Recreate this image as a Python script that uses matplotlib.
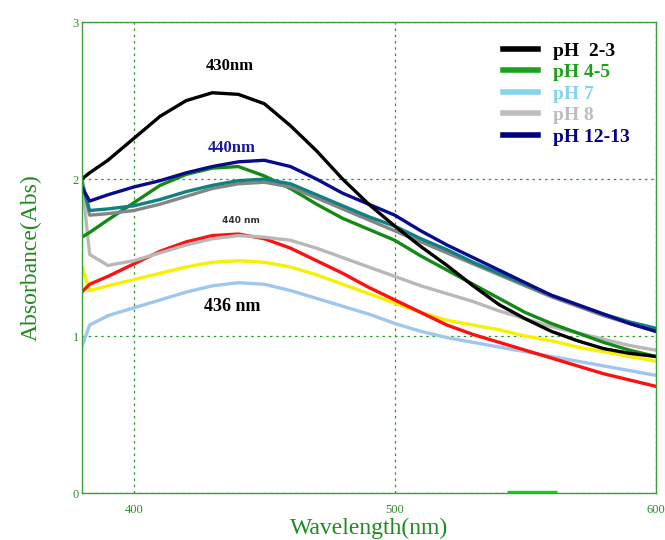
import matplotlib.pyplot as plt

# wavelength grid (nm)
wl = [380, 383, 390, 400, 410, 420, 430, 440, 450, 460, 470, 480,
      490, 500, 510, 520, 530, 540, 550, 560, 570, 580, 590, 600]

# absorbance values
black = [2.00, 2.04, 2.12, 2.26, 2.40, 2.50, 2.55, 2.54, 2.48, 2.34, 2.18, 2.00,
         1.84, 1.70, 1.57, 1.45, 1.32, 1.20, 1.11, 1.03, 0.97, 0.92, 0.89, 0.87]
green = [1.63, 1.66, 1.74, 1.85, 1.96, 2.03, 2.07, 2.08, 2.02, 1.94, 1.84, 1.75,
         1.68, 1.61, 1.51, 1.42, 1.33, 1.24, 1.15, 1.08, 1.02, 0.96, 0.91, 0.87]
navy = [1.95, 1.86, 1.90, 1.95, 1.99, 2.04, 2.08, 2.11, 2.12, 2.08, 2.00, 1.91,
        1.84, 1.77, 1.67, 1.58, 1.50, 1.42, 1.34, 1.26, 1.20, 1.14, 1.08, 1.03]
teal = [1.98, 1.80, 1.81, 1.83, 1.87, 1.92, 1.96, 1.99, 2.00, 1.97, 1.90, 1.83,
        1.76, 1.70, 1.62, 1.55, 1.47, 1.40, 1.33, 1.26, 1.20, 1.14, 1.09, 1.05]
dgray = [2.00, 1.77, 1.78, 1.80, 1.84, 1.89, 1.94, 1.97, 1.98, 1.95, 1.88, 1.81,
         1.74, 1.67, 1.60, 1.53, 1.46, 1.39, 1.32, 1.25, 1.19, 1.13, 1.08, 1.03]
silver = [2.00, 1.52, 1.45, 1.48, 1.53, 1.58, 1.62, 1.64, 1.63, 1.61, 1.56, 1.50,
          1.44, 1.38, 1.32, 1.27, 1.22, 1.16, 1.11, 1.06, 1.02, 0.98, 0.94, 0.91]
red = [1.28, 1.33, 1.38, 1.46, 1.54, 1.60, 1.64, 1.65, 1.62, 1.56, 1.48, 1.40,
       1.31, 1.23, 1.15, 1.07, 1.01, 0.96, 0.91, 0.86, 0.81, 0.76, 0.72, 0.68]
yellow = [1.45, 1.29, 1.32, 1.36, 1.40, 1.44, 1.47, 1.48, 1.47, 1.44, 1.39, 1.33,
          1.27, 1.21, 1.15, 1.10, 1.07, 1.04, 1.00, 0.97, 0.93, 0.90, 0.87, 0.84]
lblue = [0.93, 1.07, 1.13, 1.18, 1.23, 1.28, 1.32, 1.34, 1.33, 1.29, 1.24, 1.19,
         1.14, 1.08, 1.03, 0.99, 0.96, 0.93, 0.90, 0.87, 0.84, 0.81, 0.78, 0.75]

floor_wl = [543, 562]
floor_val = [0.008, 0.008]

legend_labels = ['pH  2-3', 'pH 4-5', 'pH 7', 'pH 8', 'pH 12-13']
legend_colors = ['#000000', '#1aa31a', '#86d3ee', '#bdbdbd', '#000080']

fig = plt.figure(figsize=(6.65, 5.4), dpi=100)
ax = fig.add_axes([0.123, 0.087, 0.863, 0.872])

lw = 2.4
ax.plot(wl, lblue, color='#9ec6ee', lw=lw)
ax.plot(wl, yellow, color='#f7f000', lw=lw)
ax.plot(wl, red, color='#ff1010', lw=lw)
ax.plot(wl, silver, color='#b8b8b8', lw=lw)
ax.plot(wl, green, color='#138a13', lw=lw)
ax.plot(wl, dgray, color='#858585', lw=lw)
ax.plot(wl, teal, color='#108080', lw=lw)
ax.plot(wl, navy, color='#0a0a8c', lw=lw)
ax.plot(wl, black, color='#000000', lw=lw)
ax.plot(floor_wl, floor_val, color='#22cc22', lw=2.5, solid_capstyle='butt')

ax.set_xlim(380, 600)
ax.set_ylim(0, 3)
ax.set_xticks([400, 500, 600])
ax.set_yticks([0, 1, 2, 3])
ax.grid(True, color='#2e9a2e', linestyle=(0, (2, 3)), linewidth=0.9)
ax.tick_params(length=0, labelcolor='#2e8b2e', labelsize=9)
for lab in ax.get_xticklabels() + ax.get_yticklabels():
    lab.set_family('Liberation Serif')
ax.tick_params(axis='y', pad=2)
ax.tick_params(axis='x', pad=8)
for sp in ax.spines.values():
    sp.set_color('#3aa03a')
    sp.set_linewidth(1.0)

ax.set_xlabel('Wavelength(nm)', family='Liberation Serif', fontsize=17,
              color='#1f8a1f', labelpad=1)
ax.set_ylabel('Absorbance(Abs)', family='Liberation Serif', fontsize=17,
              color='#1f8a1f', labelpad=22)

ax.text(436.7, 2.72, '430nm', family='Liberation Serif', fontweight='bold',
        fontsize=12, ha='center', va='center', color='black')
ax.text(437.5, 2.20, '440nm', family='Liberation Serif', fontweight='bold',
        fontsize=12, ha='center', va='center', color='#1a1a9a')
ax.text(441, 1.735, '440 nm', family='DejaVu Sans', fontweight='bold',
        fontsize=6.5, ha='center', va='center', color='#333333')
ax.text(437.5, 1.19, '436 nm', family='Liberation Serif', fontweight='bold',
        fontsize=13, ha='center', va='center', color='black')

handles = [plt.Line2D([], [], color=c, lw=4) for c in legend_colors]
leg = ax.legend(handles, legend_labels, loc='upper right',
                bbox_to_anchor=(0.985, 0.995), frameon=False,
                prop={'family': 'Liberation Serif', 'weight': 'bold', 'size': 14},
                handlelength=1.8, labelspacing=0.2, handletextpad=0.75,
                labelcolor=legend_colors)

fig.savefig('out.png', dpi=100)
